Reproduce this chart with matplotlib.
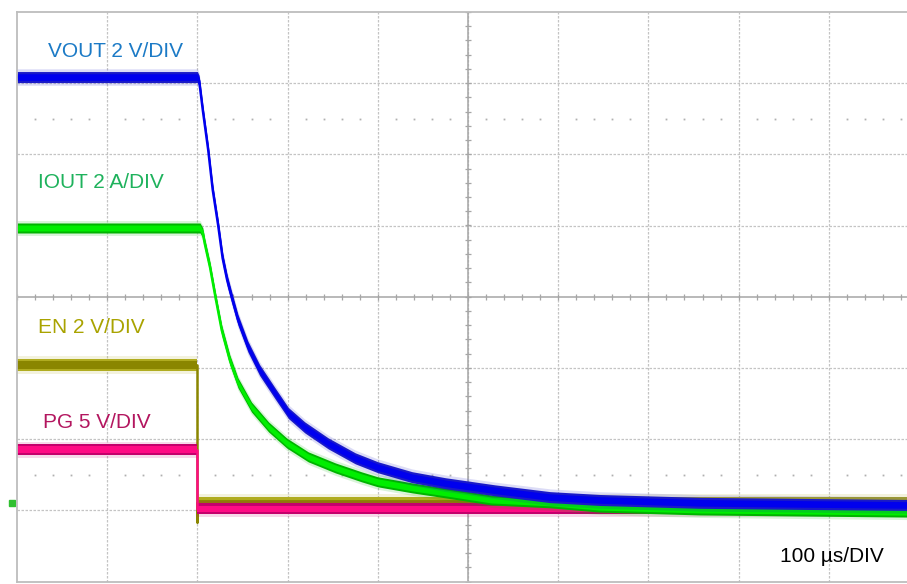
"""
Scope capture: VOUT / IOUT / EN / PG at shutdown, 100 us/div.
Trace values read off the screenshot, plotted on a 10x8 graticule.
"""
import numpy as np
import matplotlib
matplotlib.use("Agg")
import matplotlib.pyplot as plt

plt.rcParams['font.family'] = ['Liberation Sans', 'DejaVu Sans']

# ---- channel setup (volts or amps per division, ground at GND_DIV) ----
GND_DIV = -2.9
US_PER_DIV = 100.0

# ---- trace data (time in us from left edge of screen) ----
t_vout = [0, 200, 202, 206, 212, 217, 223, 228, 233, 238, 245, 256, 269,
          286, 301, 319, 345, 375, 400, 438, 475, 530, 591, 646, 757, 868, 987]
vout = [11.97, 11.97, 11.86, 11.04, 9.92, 8.80, 7.81, 6.88, 6.27, 5.79,
        5.15, 4.40, 3.74, 3.09, 2.53, 2.13, 1.68, 1.26, 1.01, 0.73, 0.56,
        0.36, 0.17, 0.09, 0.01, -0.02, -0.05]

t_iout = [0, 203, 206, 208, 214, 220, 227, 236, 245, 260, 279, 299, 323,
          353, 382, 400, 438, 475, 526, 591, 646, 757, 868, 987]
iout = [7.73, 7.73, 7.59, 7.31, 6.63, 5.79, 4.86, 4.02, 3.38, 2.70, 2.14,
        1.69, 1.30, 0.99, 0.74, 0.60, 0.43, 0.29, 0.09, 0.01, -0.11, -0.19,
        -0.22, -0.25]

t_en = [0, 200, 200, 200, 987]
en = [3.88, 3.88, -0.52, 0.0, 0.0]

t_pg = [0, 200, 200, 987]
pg = [3.75, 3.75, -0.40, -0.40]

channels = [
    # name, t, values, units/div, label, label colour, core, edge, band px
    ("EN", t_en, en, 2.0, "EN 2 V/DIV", "#a9a300", "#8a8600", "#b0ac20", 6.0),
    ("PG", t_pg, pg, 5.0, "PG 5 V/DIV", "#b3165f", "#ff0a84", "#c4006c", 5.5),
    ("IOUT", t_iout, iout, 2.0, "IOUT 2 A/DIV", "#1eb25c", "#00ee00", "#00b400", 5.0),
    ("VOUT", t_vout, vout, 2.0, "VOUT 2 V/DIV", "#1b7ac6", "#0000ee", "#1a1ac8", 5.5),
]
label_pos = {"VOUT": (0.344, 3.445), "IOUT": (0.233, 1.605),
             "EN": (0.233, -0.435), "PG": (0.288, -1.765)}

fig = plt.figure(figsize=(9.07, 5.84), dpi=100)
ax = fig.add_axes([17 / 907, 1 - 581.5 / 584, 1 - 17 / 907, (581.5 - 11.9) / 584])
ax.set_xlim(0, 890 / 90.2)
ax.set_ylim(-4, 4)

# ---- graticule ----
grid_c = '#c4c4c4'
for i in range(1, 10):
    ax.axvline(i, color=grid_c, lw=0.9, ls=(0, (2, 1.2)), zorder=0)
for j in range(-3, 4):
    if j != 0:
        ax.axhline(j, color=grid_c, lw=0.9, ls=(0, (2, 1.2)), zorder=0)
ax.axvline(5, color='#a6a6a6', lw=1.1, zorder=0)
ax.axhline(0, color='#a6a6a6', lw=1.1, zorder=0)
minor_x = np.arange(0, 10.01, 0.2)
minor_y = np.arange(-4, 4.01, 0.2)
ax.plot(minor_x, np.zeros_like(minor_x), ls='none', marker='|', ms=5,
        mew=0.9, color='#a6a6a6', zorder=0)
ax.plot(np.full_like(minor_y, 5), minor_y, ls='none', marker='_', ms=5,
        mew=0.9, color='#a6a6a6', zorder=0)
dots_x = minor_x[np.abs(minor_x - np.round(minor_x)) > 0.05]
for yy in (2.5, -2.5):
    ax.plot(dots_x, np.full_like(dots_x, yy), ls='none', marker='s', ms=1.3,
            mew=0, color='#b0b0b0', zorder=0)

for side in ('top', 'left', 'bottom'):
    ax.spines[side].set_color('#bdbdbd')
    ax.spines[side].set_linewidth(1.3)
ax.spines['right'].set_visible(False)
ax.set_xticks([])
ax.set_yticks([])

# ---- traces ----
px = 1 / 71.2  # one pixel in divisions
for name, t, vals, scale, label, lab_c, core, edge, band in channels:
    x = np.array(t) / US_PER_DIV
    y = np.array(vals) / scale + GND_DIV
    h = band * px
    # faint fringe for the scope noise spikes
    ax.fill_between(x, y - 1.5 * h, y + 1.5 * h, color=edge, alpha=0.15, lw=0, zorder=2)
    ax.fill_between(x, y - h, y + h, color=edge, lw=0, zorder=2)
    ax.fill_between(x, y - 0.6 * h, y + 0.6 * h, color=core, lw=0, zorder=2)
    ax.plot(x, y, color=core, lw=1.8, zorder=2, solid_joinstyle='round')
    lx, ly = label_pos[name]
    ax.text(lx, ly, label, color=lab_c, fontsize=15, ha='left', va='center')

# ground marker
ax.plot([-0.05], [GND_DIV], marker='s', ms=4, color='#30c030', clip_on=False)

ax.text(8.459, -3.65, "100 \u00b5s/DIV", color='black', fontsize=15,
        ha='left', va='center')

fig.savefig('out.png', dpi=100)
